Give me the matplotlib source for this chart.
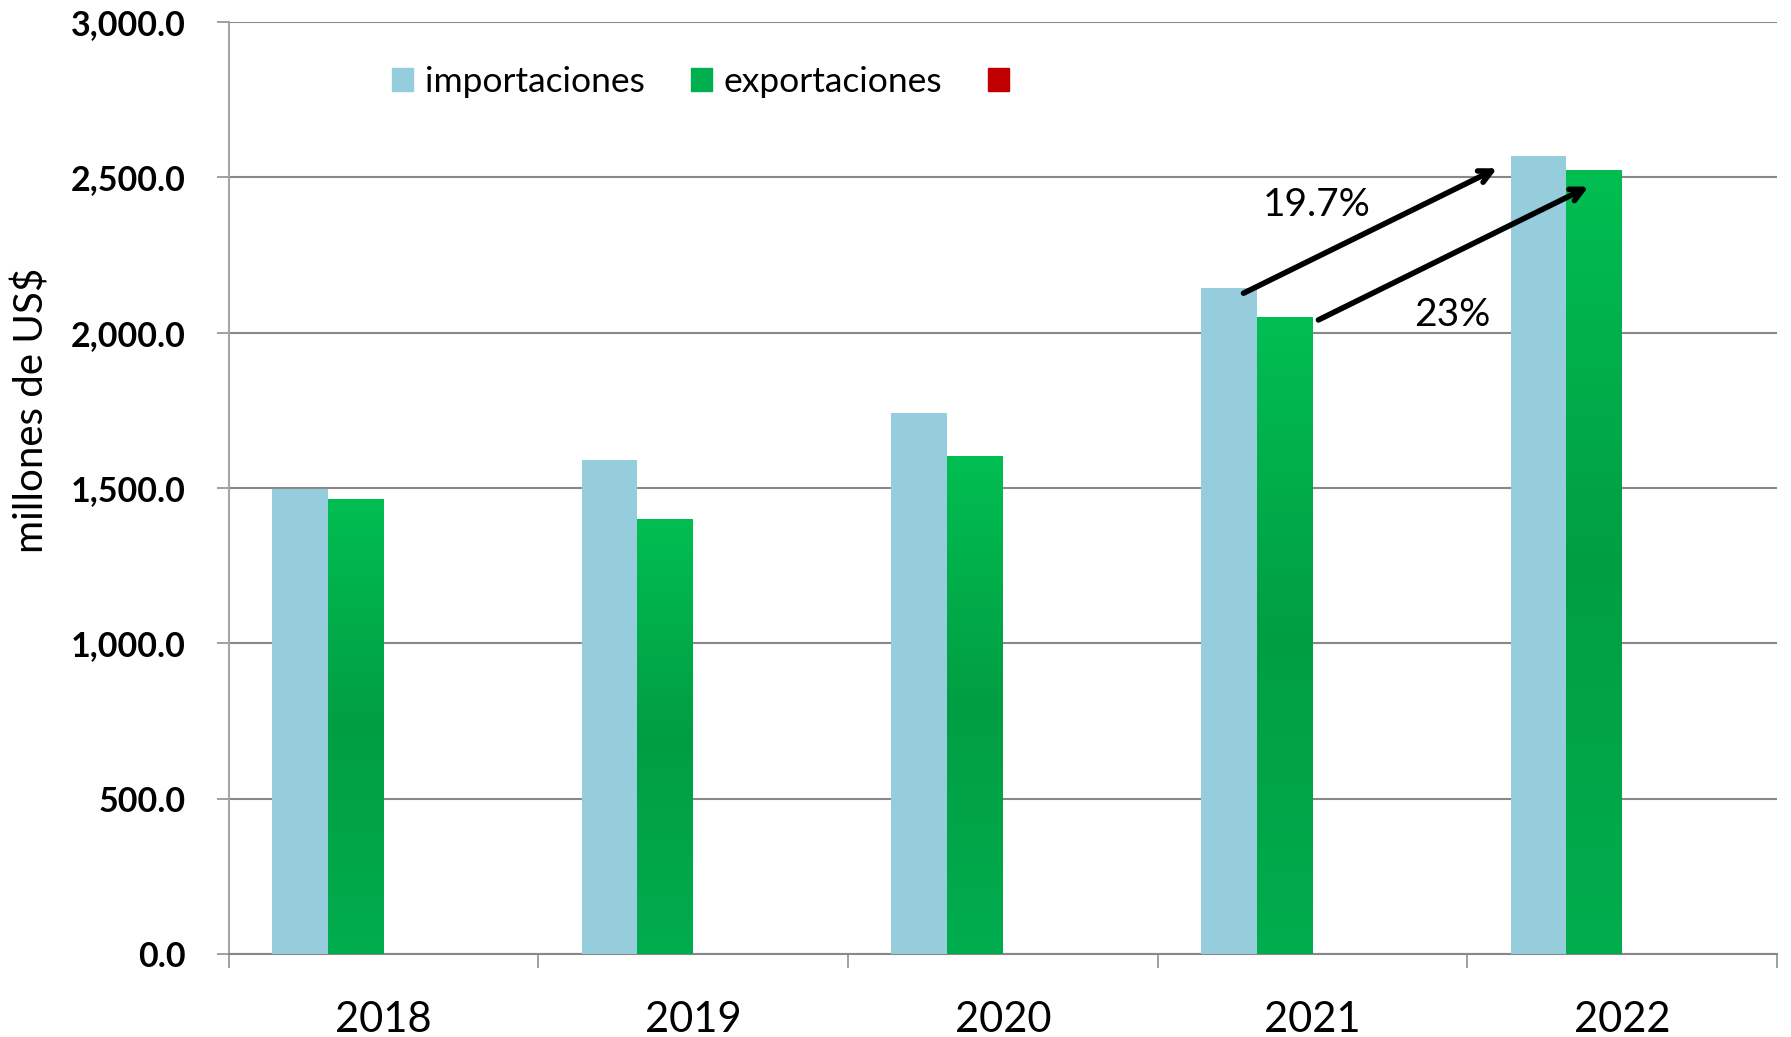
import numpy as np
import matplotlib
matplotlib.use("Agg")
import matplotlib.pyplot as plt
from matplotlib.patches import Patch
from matplotlib.colors import LinearSegmentedColormap

plt.rcParams['font.family'] = ['Lato', 'DejaVu Sans']

# Data
years = ["2018", "2019", "2020", "2021", "2022"]
importaciones = [1496, 1591, 1742, 2145, 2570]
exportaciones = [1463, 1397, 1602, 2050, 2523]
otros = [0, 0, 0, 0, 0]

crec_labels = ["19.7%", "23%"]

col_imp = "#95CDDD"
col_exp = "#00B050"
col_otro = "#C00000"
green_grad = LinearSegmentedColormap.from_list(
    "g", [(0.0, "#00AD4E"), (0.5, "#009E42"), (1.0, "#00BE52")])

fig = plt.figure(figsize=(17.91, 10.37), dpi=100)
ax = fig.add_axes([0.1277, 0.0800, 0.8645, 0.8988])

x = np.arange(len(years))
w = 0.18
b_imp = ax.bar(x - 1.5 * w, importaciones, w, color=col_imp, zorder=3)
b_exp = ax.bar(x - 0.5 * w, exportaciones, w, color=col_exp, zorder=3)
ax.bar(x + 0.5 * w, otros, w, color=col_otro, zorder=3)

# gradient fill for the export bars
grad = np.linspace(0, 1, 256).reshape(-1, 1)
for b in b_exp:
    ax.imshow(grad, cmap=green_grad, origin="lower", aspect="auto",
              extent=[b.get_x(), b.get_x() + b.get_width(), 0, b.get_height()],
              zorder=4)

ax.set_xlim(-0.5, len(years) - 0.5)
ax.set_ylim(0, 3000)

# growth arrows 2021 -> 2022
arrow_kw = dict(arrowstyle="->,head_length=0.9,head_width=0.45", lw=4,
                color="black", shrinkA=0, shrinkB=0)
ax.annotate("", xy=(3.596, 2529), xytext=(2.777, 2127), arrowprops=arrow_kw, zorder=6)
ax.annotate("", xy=(3.891, 2470), xytext=(3.019, 2041), arrowprops=arrow_kw, zorder=6)
ax.text(3.014, 2411, crec_labels[0], fontsize=28, ha="center", va="center", zorder=6)
ax.text(3.450, 2057, crec_labels[1], fontsize=28, ha="center", va="center", zorder=6)

# axes styling
ax.set_yticks(np.arange(0, 3001, 500))
ax.set_yticklabels([f"{v:,.1f}" for v in np.arange(0, 3001, 500)],
                   fontsize=24.5, fontweight="bold")
ax.yaxis.grid(True, color="#888888", lw=1.5, zorder=0)
ax.set_axisbelow(True)
ax.tick_params(axis="y", length=9, width=1.3, color="#999999", pad=22)

ax.set_xticks(np.arange(-0.5, len(years), 1.0))
ax.set_xticklabels([])
ax.set_xticks(x, minor=True)
ax.set_xticklabels(years, minor=True, fontsize=30)
ax.tick_params(axis="x", which="major", length=10, width=1.3, color="#999999")
ax.tick_params(axis="x", which="minor", length=0, pad=34)

for s in ["top", "right"]:
    ax.spines[s].set_visible(False)
ax.spines["left"].set_color("#A6A6A6")
ax.spines["left"].set_linewidth(1.5)
ax.spines["bottom"].set_color("#888888")
ax.spines["bottom"].set_linewidth(1.5)

ax.set_ylabel("millones de US$", fontsize=29)
ax.yaxis.set_label_coords(-0.115, 0.583)

handles = [Patch(color=col_imp), Patch(color=col_exp), Patch(color=col_otro)]
fig.legend(handles, ["importaciones", "exportaciones", ""], ncol=3,
           loc="center left", bbox_to_anchor=(392 / 1791, 1 - 82 / 1037),
           frameon=False, fontsize=25.5, borderpad=0, borderaxespad=0,
           handlelength=0.6, handleheight=0.6, handletextpad=0.32,
           columnspacing=1.3)

fig.savefig("out.png", dpi=100)
